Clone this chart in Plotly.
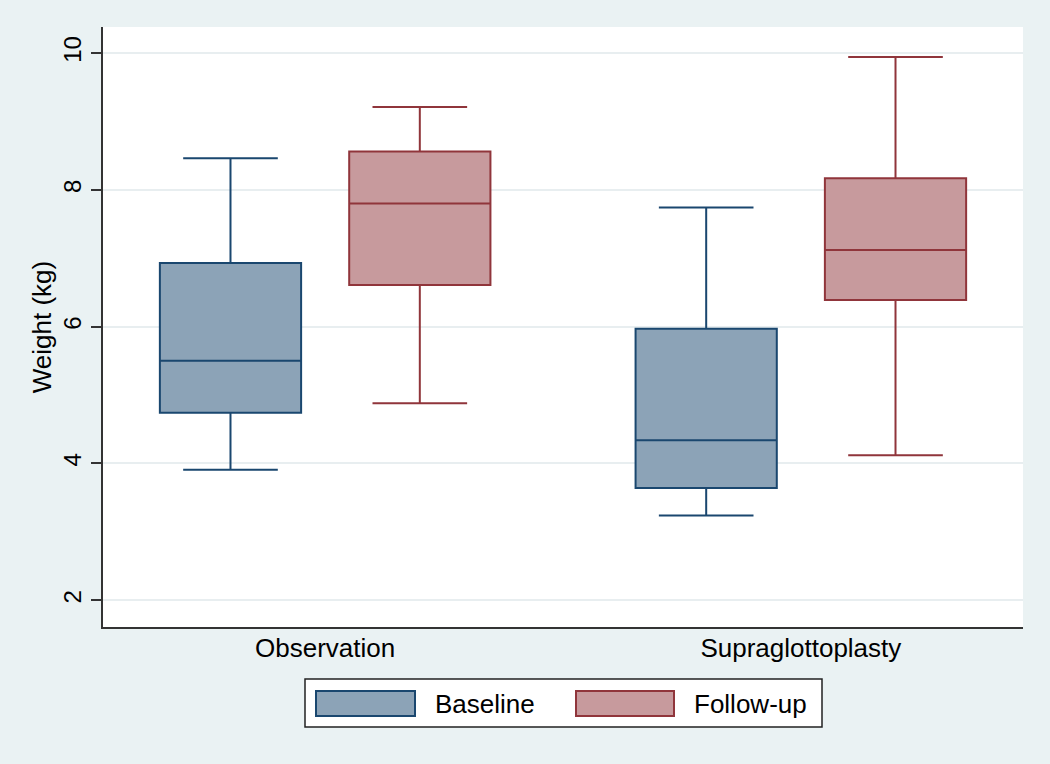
import plotly.graph_objects as go

# ---- data ----
categories = ["Observation", "Supraglottoplasty"]
series_names = ["Baseline", "Follow-up"]

baseline_lower = [3.91, 3.24]
baseline_q1 = [4.74, 3.64]
baseline_median = [5.50, 4.34]
baseline_q3 = [6.93, 5.97]
baseline_upper = [8.46, 7.74]

followup_lower = [4.88, 4.12]
followup_q1 = [6.61, 6.39]
followup_median = [7.80, 7.12]
followup_q3 = [8.56, 8.17]
followup_upper = [9.21, 9.94]

y_ticks = [2, 4, 6, 8, 10]

# ---- styles ----
line_colors = ["#1A476F", "#90353B"]
fill_colors = ["#8CA3B7", "#C79A9D"]
bg = "#EAF2F3"
font_family = "Liberation Sans, Arial, Helvetica, sans-serif"

fig = go.Figure()
stats = [
    (baseline_lower, baseline_q1, baseline_median, baseline_q3, baseline_upper),
    (followup_lower, followup_q1, followup_median, followup_q3, followup_upper),
]
for i, (lo, q1, med, q3, up) in enumerate(stats):
    fig.add_trace(go.Box(
        name=series_names[i],
        x=categories,
        lowerfence=lo, q1=q1, median=med, q3=q3, upperfence=up,
        boxpoints=False,
        fillcolor=fill_colors[i],
        line=dict(color=line_colors[i], width=2),
        whiskerwidth=0.67,
        showlegend=False,
    ))

fig.update_layout(
    width=1050, height=764,
    margin=dict(l=103, r=27, t=27, b=137),
    paper_bgcolor=bg,
    plot_bgcolor="white",
    boxmode="group",
    boxgap=0.204,
    boxgroupgap=0.254,
    font=dict(family=font_family, color="black", size=26),
    xaxis=dict(
        type="category",
        range=[-0.467, 1.467],
        showline=True, linecolor="#333333", linewidth=2,
        ticks="", showgrid=False, zeroline=False,
        tickfont=dict(size=26),
        ticklabelstandoff=-3,
    ),
    yaxis=dict(
        range=[1.61, 10.38],
        tickvals=y_ticks,
        ticktext=[str(v) for v in y_ticks],
        tickangle=-90,
        ticks="outside", ticklen=10, tickwidth=1.5, tickcolor="#333333",
        showline=True, linecolor="#333333", linewidth=2,
        showgrid=True, gridcolor="#E8EEF0", gridwidth=1.5,
        zeroline=False,
        tickfont=dict(size=24),
        ticklabelstandoff=0,
        title=dict(text="Weight (kg)", font=dict(size=26), standoff=0),
    ),
)

# ---- legend drawn as a framed key below the plot ----
def px_x(x):
    return (x - 103) / 920.0

def px_y(y):
    return (627 - y) / 600.0

fig.add_shape(type="rect", xref="paper", yref="paper",
              x0=px_x(305), x1=px_x(822), y0=px_y(727), y1=px_y(679),
              line=dict(color="#222222", width=1.5), fillcolor="white", layer="above")
swatch_x = [(316, 415), (576, 674)]
text_x = [433, 692]
for i in range(2):
    fig.add_shape(type="rect", xref="paper", yref="paper",
                  x0=px_x(swatch_x[i][0]), x1=px_x(swatch_x[i][1]),
                  y0=px_y(716), y1=px_y(691),
                  line=dict(color=line_colors[i], width=2),
                  fillcolor=fill_colors[i], layer="above")
    fig.add_annotation(xref="paper", yref="paper",
                       x=px_x(text_x[i]), y=px_y(703.5),
                       text=series_names[i], showarrow=False,
                       xanchor="left", yanchor="middle",
                       font=dict(size=26, color="black"))

fig.write_html("out.html",
               config={"displayModeBar": False},
               post_script="document.body.style.margin='0';document.body.style.overflow='hidden';")
